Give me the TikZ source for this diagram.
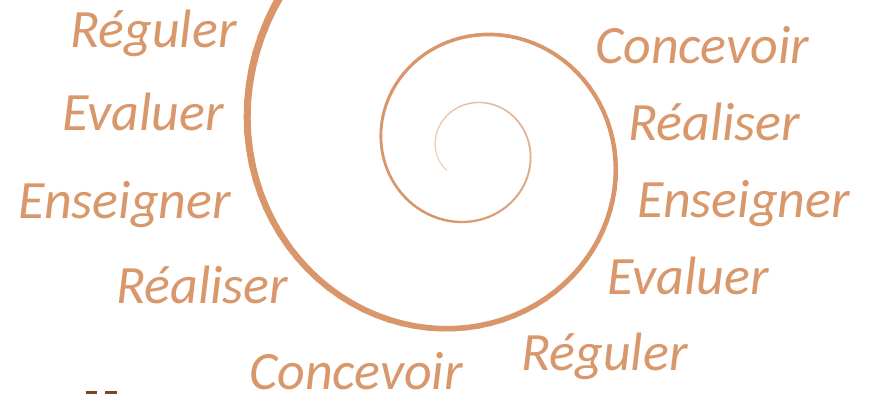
\documentclass[tikz,border=0pt]{standalone}
\usepackage{fontspec}
\setmainfont{Carlito}
\definecolor{spiralcol}{RGB}{217,150,107}
\definecolor{textcol}{RGB}{217,152,108}
\definecolor{darkcol}{RGB}{125,70,30}
\begin{document}
\begin{tikzpicture}[x=1pt,y=-1pt,
  lbl/.style={anchor=base west,inner sep=0pt,text=textcol,font=\fontsize{54}{60}\selectfont\itshape}]
\useasboundingbox (0,0) rectangle (869,394);
\fill[white] (0,0) rectangle (869,394);
\begin{scope}
\clip (0,0) rectangle (869,394);
\foreach \a in {220,216,...,-600}{
  \pgfmathsetmacro\ra{57.7*exp(-0.002506*\a)}
  \pgfmathsetmacro\rb{57.7*exp(-0.002506*(\a-4))}
  \pgfmathsetmacro\w{max(0.8,0.031*\ra)}
  \pgfmathtruncatemacro\p{min(100,\ra/0.75)}
  \draw[draw=spiralcol!\p!white, line width=\w pt, line cap=round]
    ({472.3+\ra*cos(\a)},{149-\ra*sin(\a)}) -- ({472.3+\rb*cos(\a-4)},{149-\rb*sin(\a-4)});
}
\end{scope}
% left labels
\node[lbl] (l1) at (70,47) {Réguler};
\node[lbl] (l2) at (62,130) {Evaluer};
\node[lbl] (l3) at (18,218) {Enseigner};
\node[lbl] (l4) at (116,303) {Réaliser};
\node[lbl] (l5) at (249,389) {Concevoir};
% right labels
\node[lbl] (r1) at (595,63) {Concevoir};
\node[lbl] (r2) at (628,140) {Réaliser};
\node[lbl] (r3) at (637,217) {Enseigner};
\node[lbl] (r4) at (607,294) {Evaluer};
\node[lbl] (r5) at (521,370) {Réguler};
% cut-off dark marks
\fill[darkcol] (86,391) rectangle (97,394);
\fill[darkcol] (105,391) rectangle (117,394);
\end{tikzpicture}
\end{document}
